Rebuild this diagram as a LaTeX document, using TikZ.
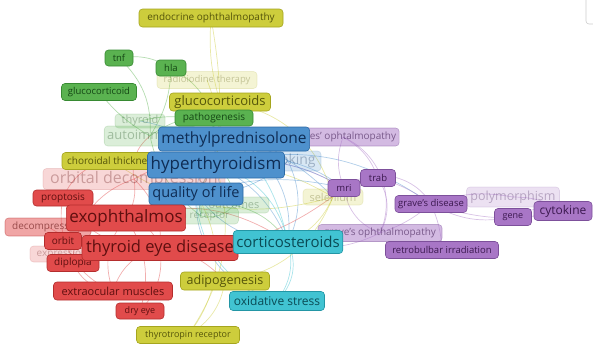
\documentclass[tikz,border=0pt]{standalone}
\usepackage{fontspec}
\setmainfont{Open Sans}
\pgfdeclarelayer{edges}
\pgfdeclarelayer{faint}
\pgfsetlayers{edges,faint,main}

% cluster colours: fill, border, text
\definecolor{yf}{RGB}{205,205,60}\definecolor{yd}{RGB}{165,165,30}\definecolor{yt}{RGB}{85,85,10}
\definecolor{gf}{RGB}{90,178,80}\definecolor{gd}{RGB}{55,138,50}\definecolor{gt}{RGB}{20,70,20}
\definecolor{bf}{RGB}{78,145,205}\definecolor{bd}{RGB}{42,105,165}\definecolor{bt}{RGB}{15,45,85}
\definecolor{rf}{RGB}{225,75,75}\definecolor{rd}{RGB}{180,45,45}\definecolor{rt}{RGB}{95,15,15}
\definecolor{cf}{RGB}{65,195,210}\definecolor{cd}{RGB}{35,150,165}\definecolor{ct}{RGB}{10,75,85}
\definecolor{pf}{RGB}{168,118,198}\definecolor{pd}{RGB}{125,80,155}\definecolor{pt}{RGB}{60,25,80}

\begin{document}
\begin{tikzpicture}[x=1pt,y=-1pt,
  kw/.style={rounded corners=3.5pt, line width=0.6pt, inner sep=0pt, inner xsep=3pt},
  fs/.style={font=\fontsize{#1}{#1}\selectfont},
  sz/.style 2 args={minimum width=#1pt, minimum height=#2pt},
  yel/.style={kw, fill=yf, draw=yd, text=yt},
  grn/.style={kw, fill=gf, draw=gd, text=gt},
  blu/.style={kw, fill=bf, draw=bd, text=bt},
  red/.style={kw, fill=rf, draw=rd, text=rt},
  cyn/.style={kw, fill=cf, draw=cd, text=ct},
  pur/.style={kw, fill=pf, draw=pd, text=pt},
  faded/.style={fill opacity=0.22, draw opacity=0.18, text opacity=0.3},
  half/.style={fill opacity=0.5, draw opacity=0.45, text opacity=0.6},
  lnk/.style={line width=0.7pt, draw opacity=0.45},
  ey/.style={lnk, draw=yf}, eg/.style={lnk, draw=gf}, eb/.style={lnk, draw=bf},
  er/.style={lnk, draw=rf}, ec/.style={lnk, draw=cf}, ep/.style={lnk, draw=pf},
]
\useasboundingbox (0,0) rectangle (593,346);

% faint labels sit beneath the others
\begin{pgfonlayer}{faint}
\node[yel,faded,fs=9.5,sz={100}{17}] (radio) at (207,80) {radioiodine therapy};
\node[grn,faded,fs=11,sz={50}{14}] (thyr) at (140,121) {thyroid};
\node[grn,faded,fs=13,sz={90}{20}] (autoim) at (150,136) {autoimmunity};
\node[red,faded,fs=16,sz={182}{21}] (orbdec) at (134,179) {orbital decompression};
\node[red,faded,fs=10,sz={64}{16}] (expr) at (62,254) {expression};
\node[grn,faded,fs=10,sz={75}{16}] (tshr) at (201,216) {tsh receptor};
\node[grn,faded,fs=11,sz={70}{16}] (outc) at (234,205) {outcomes};
\node[blu,faded,fs=14,sz={66}{20}] (smok) at (288,161) {smoking};
\node[yel,faded,fs=11,sz={60}{16}] (selen) at (333,197) {selenium};
\node[pur,half,fs=10,sz={106}{18}] (gophf) at (343,137) {graves' ophtalmopathy};
\node[pur,faded,fs=12.5,sz={93}{20}] (poly) at (513,197) {polymorphism};
\end{pgfonlayer}

% labels
\node[yel,fs=10,sz={144}{18}] (endo) at (211,18) {endocrine ophthalmopathy};
\node[grn,fs=9.5,sz={28}{16}] (tnf) at (119,58) {tnf};
\node[grn,fs=9.5,sz={30}{16}] (hla) at (171,68) {hla};
\node[grn,fs=9.5,sz={75}{17}] (gluc) at (99,92) {glucocorticoid};
\node[yel,fs=13,sz={101}{18}] (glucs) at (220,102) {glucocorticoids};
\node[grn,fs=10,sz={78}{16}] (patho) at (214,118) {pathogenesis};
\node[yel,fs=10,sz={100}{17}] (choro) at (112,161) {choroidal thickness};
\node[blu,fs=15.5,sz={148}{24}] (methyl) at (234,139) {methylprednisolone};
\node[blu,fs=17,sz={137}{26}] (hyper) at (216,165) {hyperthyroidism};
\node[blu,fs=14.5,sz={94}{22}] (qol) at (196,194) {quality of life};
\node[red,fs=10,sz={60}{16}] (prop) at (63,198) {proptosis};
\node[red,half,fs=10,sz={86}{18}] (decomp) at (48,227) {decompression};
\node[red,fs=10,sz={37}{17}] (orbit) at (63,241) {orbit};
\node[red,fs=10,sz={52}{17}] (dipl) at (73,263) {diplopia};
\node[red,fs=17,sz={119}{26}] (exo) at (126,218) {exophthalmos};
\node[red,fs=16.5,sz={156}{25}] (ted) at (160,248) {thyroid eye disease};
\node[red,fs=11,sz={119}{18}] (eom) at (113,291) {extraocular muscles};
\node[red,fs=9,sz={48}{16}] (dry) at (140,311) {dry eye};
\node[yel,fs=12.5,sz={89}{18}] (adipo) at (225,281) {adipogenesis};
\node[yel,fs=9,sz={103}{17}] (thyrec) at (188,335) {thyrotropin receptor};
\node[pur,half,fs=10,sz={124}{17}] (goph) at (380,233) {grave's ophthalmopathy};
\node[cyn,fs=15,sz={107}{23}] (cort) at (288,242) {corticosteroids};
\node[cyn,fs=12,sz={95}{19}] (oxid) at (277,301) {oxidative stress};
\node[pur,fs=9.5,sz={32}{17}] (mri) at (344,188) {mri};
\node[pur,fs=9.5,sz={35}{17}] (trab) at (378,178) {trab};
\node[pur,fs=9.5,sz={72}{17}] (gdis) at (431,204) {grave's disease};
\node[pur,fs=9,sz={37}{17}] (gene) at (513,217) {gene};
\node[pur,fs=12,sz={58}{19}] (cyto) at (563,211) {cytokine};
\node[pur,fs=9.5,sz={113}{17}] (retro) at (442,250) {retrobulbar irradiation};

% map control in the corner
\draw[black!20, line width=0.6pt, rounded corners=3pt] (600,-4) -- (586,-4) -- (586,24) -- (600,24);

% co-occurrence links
\begin{pgfonlayer}{edges}
% yellow
\draw[ey] (endo.center) to[bend right=10] (glucs.center);
\draw[ey] (endo.center) to[bend left=8] (hyper.center);
\draw[ey] (radio.center) to[bend left=15] (hyper.center);
\draw[ey] (choro.center) to[bend right=25] (selen.center);
\draw[ey] (glucs.center) to[bend left=35] (selen.center);
\draw[ey] (selen.center) to[bend left=20] (cort.center);
\draw[ey] (selen.center) to[bend right=15] (hyper.center);
\draw[ey] (adipo.center) to[bend left=25] (thyrec.center);
\draw[ey] (adipo.center) to[bend right=30] (selen.center);
\draw[ey] (thyrec.center) to[bend right=35] (qol.center);
\draw[ey] (thyrec.center) to[bend right=25] (hyper.center);
\draw[ey] (choro.center) to[bend left=10] (hyper.center);
\draw[ey] (glucs.center) to[bend left=20] (qol.center);
% green
\draw[eg] (tnf.center) to[bend left=20] (hla.center);
\draw[eg] (tnf.center) to[bend left=25] (autoim.center);
\draw[eg] (gluc.center) to[bend right=10] (autoim.center);
\draw[eg] (hla.center) to[bend left=15] (autoim.center);
\draw[eg] (hla.center) to[bend left=20] (patho.center);
\draw[eg] (patho.center) to[bend right=20] (autoim.center);
\draw[eg] (tshr.center) to[bend left=20] (autoim.center);
\draw[eg] (tshr.center) to[bend right=20] (qol.center);
\draw[eg] (outc.center) to[bend right=25] (hyper.center);
\draw[eg] (outc.center) to[bend left=20] (cort.center);
\draw[eg] (tshr.center) to[bend right=30] (outc.center);
\draw[eg] (thyr.center) to[bend left=25] (methyl.center);
% blue
\draw[eb] (methyl.center) to[bend left=35] (cort.center);
\draw[eb] (hyper.center) to[bend left=20] (cort.center);
\draw[eb] (hyper.center) to[bend left=20] (mri.center);
\draw[eb] (qol.center) to[bend left=15] (mri.center);
\draw[eb] (qol.center) to[bend right=25] (cort.center);
\draw[eb] (methyl.center) to[bend left=20] (smok.center);
\draw[eb] (smok.center) to[bend left=25] (cort.center);
\draw[eb] (hyper.center) to[bend right=20] (outc.center);
\draw[eb] (methyl.center) to[bend left=15] (selen.center);
\draw[eb] (qol.center) to[bend right=40] (oxid.center);
\draw[eb] (hyper.center) to[bend left=25] (gdis.center);
\draw[eb] (qol.center) to[bend right=20] (smok.center);
\draw[eb] (methyl.center) to[bend right=30] (qol.center);
\draw[eb] (hyper.center) to[bend right=30] (tshr.center);
\draw[eb] (smok.center) to[bend left=10] (mri.center);
\draw[eb] (thyr.center) to[bend left=20] (hyper.center);
% red
\draw[er] (orbdec.center) to[bend left=20] (exo.center);
\draw[er] (orbdec.center) to[bend left=25] (ted.center);
\draw[er] (prop.center) to[bend right=30] (ted.center);
\draw[er] (exo.center) to[bend left=30] (ted.center);
\draw[er] (orbit.center) to[bend right=20] (ted.center);
\draw[er] (dipl.center) to[bend right=30] (eom.center);
\draw[er] (eom.center) to[bend left=30] (ted.center);
\draw[er] (dry.center) to[bend right=25] (ted.center);
\draw[er] (orbdec.center) to[bend left=30] (autoim.center);
\draw[er] (exo.center) to[bend left=25] (dry.center);
\draw[er] (prop.center) to[bend right=40] (eom.center);
\draw[er] (ted.center) to[bend left=20] (adipo.center);
\draw[er] (exo.center) to[bend left=25] (cort.center);
\draw[er] (decomp.center) to[bend right=20] (ted.center);
\draw[er] (prop.center) to[bend left=30] (choro.center);
\draw[er] (orbdec.center) to[bend right=35] (dipl.center);
\draw[er] (exo.center) to[bend right=30] (eom.center);
\draw[er] (ted.center) to[bend right=20] (mri.center);
\draw[er] (orbdec.center) to[bend left=20] (hyper.center);
% cyan
\draw[ec] (cort.center) to[bend left=35] (oxid.center);
\draw[ec] (cort.center) to[bend right=30] (hyper.center);
\draw[ec] (cort.center) to[bend right=15] (methyl.center);
\draw[ec] (oxid.center) to[bend left=35] (qol.center);
\draw[ec] (oxid.center) to[bend right=25] (cort.center);
% purple
\draw[ep] (gophf.center) to[bend left=20] (trab.center);
\draw[ep] (gophf.center) to[bend right=20] (mri.center);
\draw[ep] (mri.center) to[bend left=10] (trab.center);
\draw[ep] (trab.center) to[bend left=10] (gdis.center);
\draw[ep] (gdis.center) to[bend left=15] (poly.center);
\draw[ep] (gdis.center) to[bend right=20] (gene.center);
\draw[ep] (gdis.center) to[bend right=15] (cyto.center);
\draw[ep] (poly.center) to[bend left=15] (cyto.center);
\draw[ep] (gdis.center) to[bend left=10] (retro.center);
\draw[ep] (goph.center) to[bend right=10] (gdis.center);
\draw[ep] (goph.center) to[bend left=30] (mri.center);
\draw[ep] (trab.center) to[bend left=30] (goph.center);
\draw[ep] (mri.center) to[bend left=50] (gdis.center);
\draw[ep] (gophf.center) to[bend left=45] (goph.center);
\draw[ep] (mri.center) to[bend right=20] (hyper.center);
\draw[ep] (goph.center) to[bend left=20] (cort.center);
\draw[ep] (gene.center) to[bend left=20] (cyto.center);
\end{pgfonlayer}
\end{tikzpicture}
\end{document}
